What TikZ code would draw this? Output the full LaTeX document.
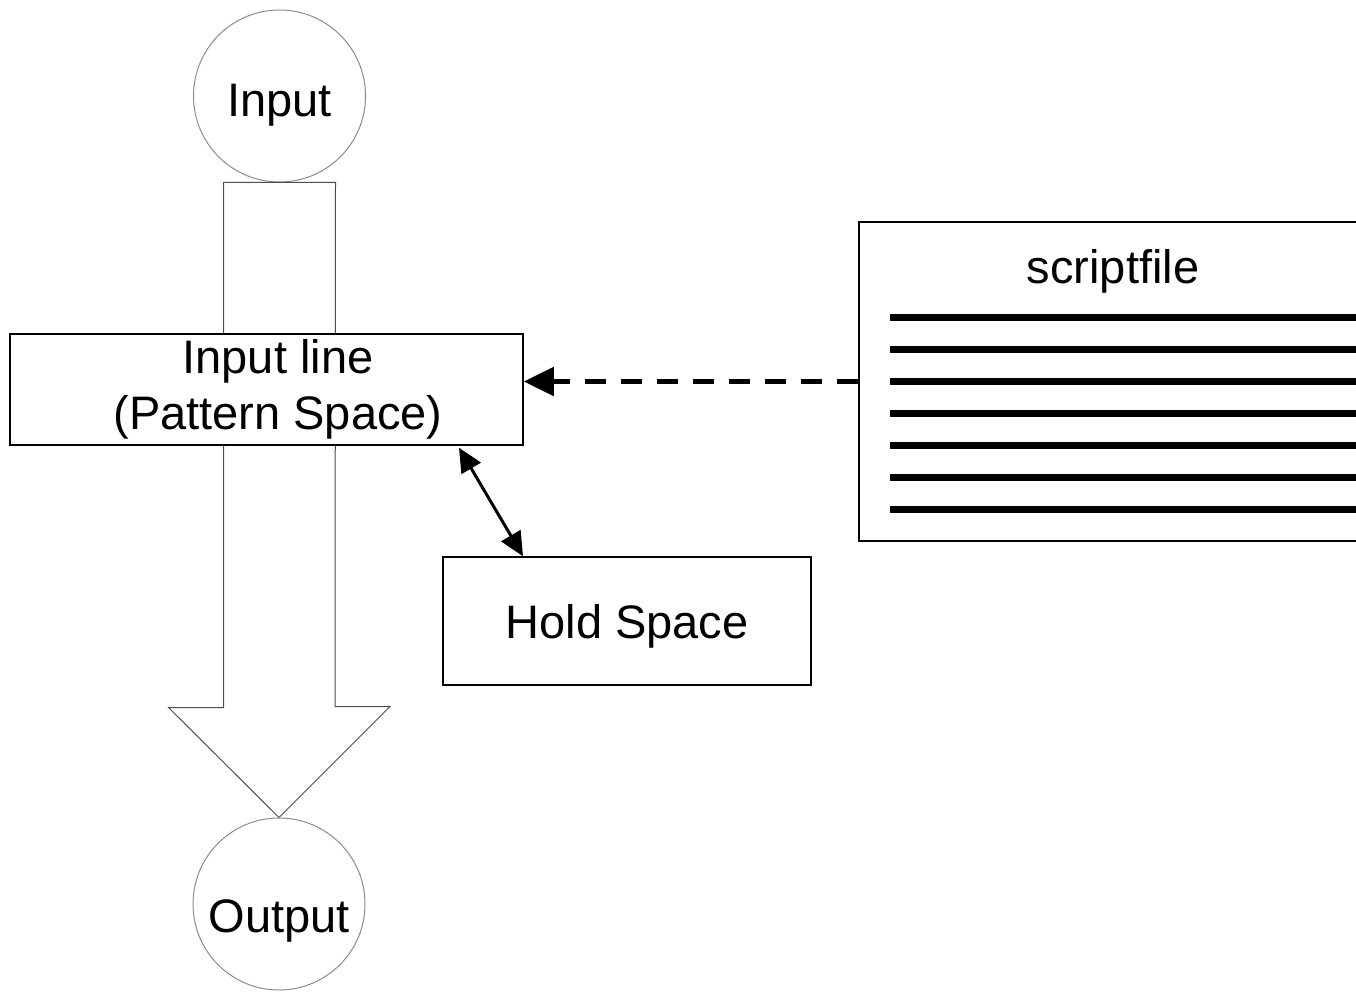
\documentclass[tikz,border=0pt]{standalone}
\usepackage{fontspec}
\setmainfont{Liberation Sans}
\usetikzlibrary{arrows.meta,calc}

\begin{document}
\begin{tikzpicture}[x=1pt,y=-1pt,
        endpoint/.style={circle,draw=black!45,line width=1pt,minimum size=172pt,inner sep=0pt,text depth=0pt,font=\fontsize{47}{56}\selectfont},
        box/.style={draw,line width=1.5pt,fill=white,font=\fontsize{47}{56}\selectfont},
        flow/.style={draw=black!70,line width=1pt},
        swap/.style={line width=3pt,{Triangle[length=24pt,width=22pt]}-{Triangle[length=24pt,width=22pt]}},
        feed/.style={line width=5pt,dash pattern=on 21pt off 15pt,-{Triangle[length=30pt,width=28pt]}},
        codeline/.style={line width=7pt}]
    \useasboundingbox (0,0) rectangle (1356,992);
    \node[endpoint,text height=42pt] (input) at (279.5,96) {Input};
    \node[endpoint,text height=56pt] (output) at (279,904) {Output};
    % big arrow through the pattern space
    \draw[flow] ([xshift=-56pt]input.south) -- ++(0,525) -- ++(-55,0) -- (output.north)
        -- ++(111,-111) -- ++(-55,0) -- ([xshift=56pt]input.south) -- cycle;
    \node[box,minimum width=513pt,minimum height=111pt,align=center] (pattern) at (266.5,389.5)
        {\hspace*{23pt}Input line\\\hspace*{23pt}(Pattern Space)};
    \node[box,minimum width=368pt,minimum height=128pt,text depth=0pt] (hold) at (627,621) {Hold Space};
    \node[box,minimum width=508pt,minimum height=319pt] (script) at (1113,381.5) {};
    \node[font=\fontsize{47}{56}\selectfont,text depth=0pt] (scriptname) at ($(script.north)+(0,45)$) {scriptfile};
    \foreach \i in {0,...,6}{
        \draw[codeline] ($(script.west)+(32,-64.5+32*\i)$) -- ++(500,0);
    }
    \draw[feed] (script.west) -- (script.west -| pattern.east);
    \draw[swap] ([xshift=192.5pt,yshift=-2pt]pattern.south) -- ([xshift=-104pt]hold.north);
\end{tikzpicture}
\end{document}
